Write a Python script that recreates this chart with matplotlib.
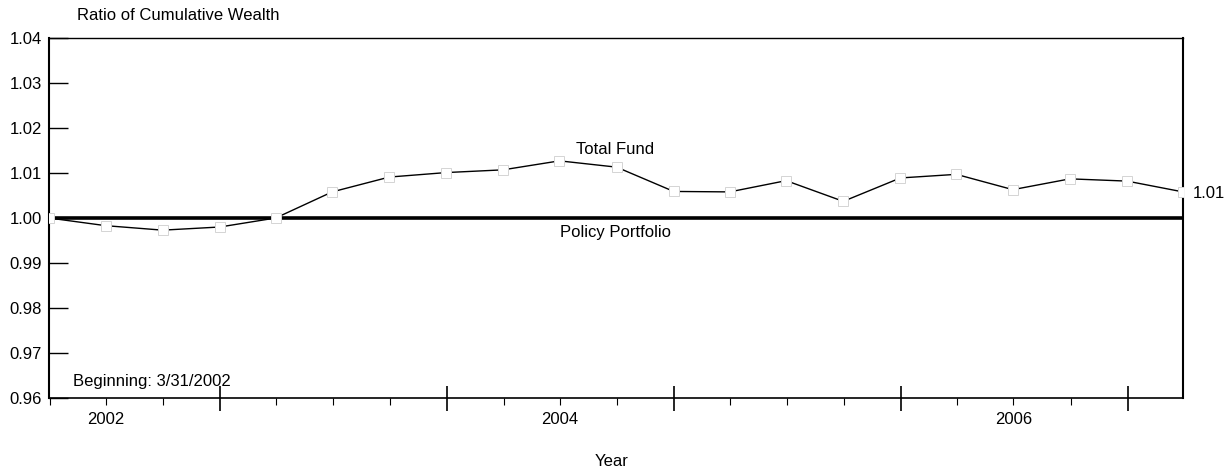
import numpy as np
import pandas as pd
import matplotlib
matplotlib.use('Agg')
import matplotlib.pyplot as plt
import matplotlib.dates as mdates

# ── data ──────────────────────────────────────────────────────────────────
QUARTERS = ['2002-03-31', '2002-06-30', '2002-09-30', '2002-12-31',
            '2003-03-31', '2003-06-30', '2003-09-30', '2003-12-31',
            '2004-03-31', '2004-06-30', '2004-09-30', '2004-12-31',
            '2005-03-31', '2005-06-30', '2005-09-30', '2005-12-31',
            '2006-03-31', '2006-06-30', '2006-09-30', '2006-12-31',
            '2007-03-31']
TOTAL_FUND = [1.0000, 0.9983, 0.9973, 0.9980, 1.0000, 1.0058, 1.0091,
              1.0101, 1.0107, 1.0127, 1.0113, 1.0059, 1.0058, 1.0083,
              1.0037, 1.0089, 1.0097, 1.0063, 1.0087, 1.0082, 1.0058]
POLICY = [1.0] * len(QUARTERS)
Y_TICKS = [0.96, 0.97, 0.98, 0.99, 1.00, 1.01, 1.02, 1.03, 1.04]
YEAR_LABELS = ['2002', '2004', '2006']

dates = pd.to_datetime(QUARTERS)

plt.rcParams['font.family'] = ['Liberation Sans', 'DejaVu Sans']
FS = 12

# ── plot ──────────────────────────────────────────────────────────────────
fig = plt.figure(figsize=(12.32, 4.74), dpi=100)
ax = fig.add_axes([49/1232, 76/474, (1183-49)/1232, (398-38)/474])

ax.plot(dates, POLICY, color='black', lw=2.6, zorder=2)
ax.plot(dates, TOTAL_FUND, color='black', lw=1.0, zorder=3,
        marker='s', markersize=7, markerfacecolor='white',
        markeredgecolor='#d4d4d4', markeredgewidth=0.7)

ax.set_xlim(dates[0], dates[-1])
ax.set_ylim(0.96, 1.04)
ax.set_yticks(Y_TICKS)
ax.set_yticklabels([f'{v:.2f}' for v in Y_TICKS], fontsize=FS)
ax.tick_params(axis='y', direction='in', length=14, width=1, pad=5)

ax.xaxis.set_major_locator(mdates.YearLocator())
ax.xaxis.set_minor_locator(mdates.MonthLocator(bymonth=[4, 7, 10]))
ax.xaxis.set_major_formatter(plt.NullFormatter())
ax.tick_params(axis='x', which='major', direction='inout', length=18, width=1.2)
ax.tick_params(axis='x', which='minor', direction='out', length=5, width=0.8)

for s in ['left', 'right']:
    ax.spines[s].set_linewidth(1.5)
ax.spines['bottom'].set_linewidth(1.2)
ax.spines['top'].set_linewidth(1.0)

for yr in YEAR_LABELS:
    ax.text(pd.Timestamp(f'{yr}-07-01'), -0.06, yr, transform=ax.get_xaxis_transform(),
            ha='center', va='center', fontsize=FS)

fig.text(612/1232, 1 - 462/474, 'Year', ha='center', va='center', fontsize=FS)
fig.text(77/1232, 1 - 15/474, 'Ratio of Cumulative Wealth', ha='left', va='center', fontsize=FS)
ax.text(0.021, 0.045, 'Beginning: 3/31/2002', transform=ax.transAxes,
        ha='left', va='center', fontsize=FS)
fig.text(615/1232, 1 - 150/474, 'Total Fund', ha='center', va='center', fontsize=FS)
fig.text(616/1232, 1 - 233/474, 'Policy Portfolio', ha='center', va='center', fontsize=FS)
ax.annotate(f'{TOTAL_FUND[-1]:.2f}', xy=(dates[-1], TOTAL_FUND[-1]), xytext=(7, -1),
            textcoords='offset points', ha='left', va='center', fontsize=FS,
            annotation_clip=False)

fig.savefig('out.png', dpi=100)
